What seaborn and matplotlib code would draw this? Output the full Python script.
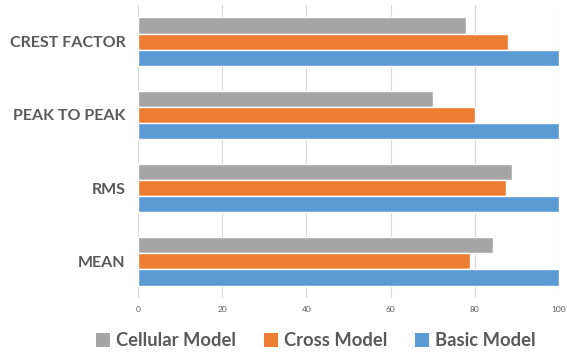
import matplotlib
matplotlib.use("Agg")
import matplotlib.pyplot as plt
import seaborn as sns
import pandas as pd
from matplotlib.patches import Patch

metrics = ["CREST FACTOR", "PEAK TO PEAK", "RMS", "MEAN"]
models = ["Cellular Model", "Cross Model", "Basic Model"]
cellular = [78, 70, 88.8, 84.3]
cross = [88, 80, 87.5, 78.8]
basic = [100, 100, 100, 100]
x_ticks = [0, 20, 40, 60, 80, 100]

colors = ["#A5A5A5", "#ED7D31", "#5B9BD5"]
text_color = "#595959"

df = pd.DataFrame({
    "metric": metrics * 3,
    "model": [models[0]] * 4 + [models[1]] * 4 + [models[2]] * 4,
    "value": cellular + cross + basic,
})

sns.set_theme(style="white")
plt.rcParams["font.family"] = ["Lato", "DejaVu Sans"]

fig = plt.figure(figsize=(5.67, 3.53), dpi=100)
ax = fig.add_axes([138 / 567, 1 - 298 / 353, (559 - 138) / 567, 293 / 353])

sns.barplot(data=df, y="metric", x="value", hue="model", order=metrics,
            hue_order=models, palette=colors, orient="h", width=0.66,
            saturation=1, ax=ax, legend=False)

ax.set_xlim(0, 100)
ax.set_xticks(x_ticks)
ax.set_xticklabels([str(t) for t in x_ticks], fontsize=6, color=text_color)
ax.tick_params(axis="x", length=0, pad=6)
ax.tick_params(axis="y", length=0, pad=9)
for lbl in ax.get_yticklabels():
    lbl.set_fontsize(11.5)
    lbl.set_fontweight("bold")
    lbl.set_color(text_color)
ax.set_xlabel("")
ax.set_ylabel("")
ax.grid(axis="x", color="#D9D9D9", linewidth=0.8)
ax.set_axisbelow(True)
for s in ax.spines.values():
    s.set_visible(False)
ax.set_ylim(3.5, -0.5)

handles = [Patch(facecolor=c, edgecolor="none") for c in colors]
fig.legend(handles, models, loc="center", bbox_to_anchor=(316 / 567, 1 - 341 / 353),
           ncol=3, frameon=False, handlelength=0.75, handleheight=0.75,
           handletextpad=0.35, columnspacing=1.5,
           prop={"family": ["Lato", "DejaVu Sans"], "weight": "bold", "size": 13.2},
           labelcolor=text_color)

fig.savefig("out.png", dpi=100)
